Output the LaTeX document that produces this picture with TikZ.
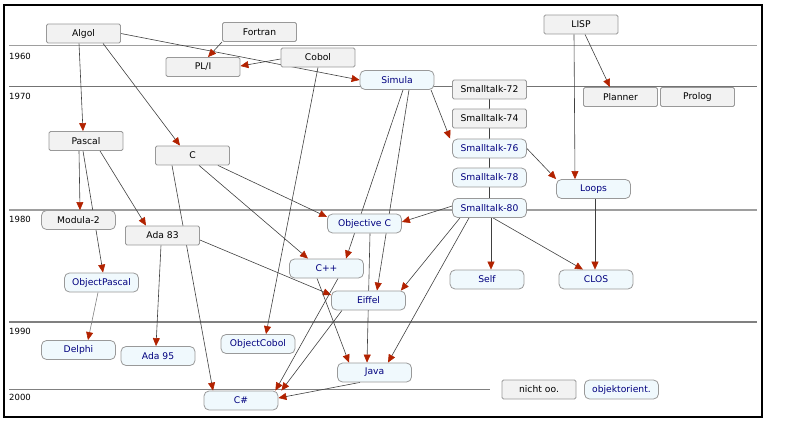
\documentclass[tikz,border=0pt]{standalone}
\usepackage{fontspec}
\setsansfont{DejaVu Sans}
\usetikzlibrary{arrows.meta, backgrounds}
\definecolor{boxgray}{HTML}{F2F2F2}
\definecolor{boxblue}{HTML}{F0F9FD}
\definecolor{edgegray}{HTML}{999999}
\definecolor{textblue}{HTML}{00007F}
\definecolor{tipred}{HTML}{B22200}
\definecolor{linkgray}{HTML}{404040}

\begin{document}
\begin{tikzpicture}[x=1pt, y=-1pt,
    lang/.style={draw=edgegray, line width=0.8pt, minimum width=74pt, minimum height=19pt, inner sep=0pt,
        font=\sffamily\fontsize{9.2}{11}\selectfont},
    oldlang/.style={lang, fill=boxgray, rounded corners=1.5pt},
    oolang/.style={lang, fill=boxblue, text=textblue, rounded corners=5pt},
    link/.style={draw=linkgray, line width=0.6pt},
    arr/.style={link, -{Triangle[length=8pt, width=7pt, color=tipred]}},
    yearline/.style={line width=1.3pt, draw=black!38},
    yearlbl/.style={anchor=west, inner sep=0pt, font=\sffamily\fontsize{8.5}{10}\selectfont},
    ]
    \useasboundingbox (0,0) rectangle (800,422);
    \draw[line width=1.3pt] (4,5) rectangle (762,417);

    % === languages before 1970 ===
    \node[oldlang] (Algol)   at (83.5,33.5) {Algol};
    \node[oldlang] (Fortran) at (259.5,32)  {Fortran};
    \node[oldlang] (PLI)     at (203,67)    {PL/I};
    \node[oldlang] (Cobol)   at (318,57.5)  {Cobol};
    \node[oldlang] (LISP)    at (581,24.5)  {LISP};
    \node[oolang]  (Simula)  at (397,80)    {Simula};

    % === 1970s ===
    \node[oldlang] (ST72)    at (489.5,89.5)  {Smalltalk-72};
    \node[oldlang] (ST74)    at (489.5,118.5) {Smalltalk-74};
    \node[oolang]  (ST76)    at (489.5,148.5) {Smalltalk-76};
    \node[oolang]  (ST78)    at (489.5,177.5) {Smalltalk-78};
    \node[oolang]  (ST80)    at (489.5,208)   {Smalltalk-80};
    \node[oldlang] (Planner) at (620.5,97)    {Planner};
    \node[oldlang] (Prolog)  at (697.5,97)    {Prolog};
    \node[oldlang] (Pascal)  at (86,141)      {Pascal};
    \node[oldlang] (C)       at (192.5,155.5) {C};
    \node[oolang]  (Loops)   at (593.5,189)   {Loops};

    % === 1980s ===
    \node[oldlang, rounded corners=5pt] (Modula) at (78.5,220) {Modula-2};
    \node[oldlang] (Ada83)   at (162.5,235.5) {Ada 83};
    \node[oolang]  (ObjC)    at (364.5,223.5) {Objective C};
    \node[oolang]  (Cpp)     at (326.5,268.5) {C++};
    \node[oolang]  (Self)    at (487,279.5)   {Self};
    \node[oolang]  (CLOS)    at (596,279.5)   {CLOS};
    \node[oolang]  (OPascal) at (101.5,282.5) {ObjectPascal};
    \node[oolang]  (Eiffel)  at (368.5,300.5) {Eiffel};

    % === 1990s and later ===
    \node[oolang]  (Delphi)  at (78.5,350)    {Delphi};
    \node[oolang]  (Ada95)   at (158,356)     {Ada 95};
    \node[oolang]  (OCobol)  at (258,344)     {ObjectCobol};
    \node[oolang]  (Java)    at (374.5,372.5) {Java};
    \node[oolang]  (CSharp)  at (241,400.5)   {C\#};

    % === legend ===
    \node[oldlang] (legendold) at (539,389.5)   {nicht oo.};
    \node[oolang]  (legendoo)  at (621.5,389.5) {objektorient.};

    \begin{scope}[on background layer]
        % === time axis ===
        \foreach \ly/\yr/\ty/\xe/\lw/\lc in {45.5/1960/56/757/1.5/38, 86.7/1970/96/757/1/55, 210/1980/219/757/1.5/38,
                                             322/1990/331.5/757/1.1/50, 389/2000/397.5/490/1/50} {
            \draw[yearline, line width=\lw pt, draw=black!\lc] (9,\ly) -- (\xe,\ly);
            \node[yearlbl] (year\yr) at (9,\ty) {\yr};
        }

        % === Smalltalk chain ===
        \draw[link] (ST72) -- (ST74) -- (ST76) -- (ST78) -- (ST80);

        % === influences ===
        \draw[arr] ([xshift=-4.5]Algol.south) -- ([xshift=-3]Pascal.north);
        \draw[arr] ([xshift=19.5]Algol.south) -- ([xshift=-12.5]C.north);
        \draw[arr] (Algol.east) -- (Simula.west);
        \draw[arr] (Fortran.south west) -- ([xshift=5]PLI.north);
        \draw[arr] ([yshift=-1.5]Cobol.west) -- ([yshift=1]PLI.east);
        \draw[arr] (Cobol.south) -- ([xshift=8]OCobol.north);
        \draw[arr] ([xshift=34]Simula.south) -- ([xshift=-2]ST76.north west);
        \draw[arr] ([xshift=6]Simula.south) -- ([xshift=19.5]Cpp.north);
        \draw[arr] ([xshift=12]Simula.south) -- ([xshift=8.5]Eiffel.north);
        \draw[arr] ([xshift=5.5]ObjC.south) -- ([xshift=-7.5]Java.north);
        \draw[arr] ([yshift=2]ST80.west) -- ([yshift=1.5]ObjC.east);
        \draw[arr] ([xshift=-12]C.south east) -- ([yshift=6.5]ObjC.west);
        \draw[arr] ([xshift=6.5]C.south) -- ([xshift=-18.5]Cpp.north);
        \draw[arr] ([xshift=-20.5]C.south) -- ([xshift=-28]CSharp.north);
        \draw[arr] ([xshift=-7]Pascal.south) -- ([xshift=1.5]Modula.north);
        \draw[arr] ([xshift=-3]Pascal.south) -- ([xshift=1.5]OPascal.north);
        \draw[arr] ([xshift=14]Pascal.south) -- ([xshift=-16.5]Ada83.north);
        \draw[arr] ([xshift=-1.5]Ada83.south) -- ([xshift=-2]Ada95.north);
        \draw[arr] ([yshift=-4.5]Ada83.east) -- ([yshift=5.5]Eiffel.west);
        \draw[arr, draw=black!50] ([xshift=-3.5]OPascal.south) -- ([xshift=9.5]Delphi.north);
        \draw[arr] ([xshift=-9.5]Cpp.south) -- ([xshift=-25.5]Java.north);
        \draw[arr] ([xshift=11.5]Cpp.south) -- ([xshift=-3]CSharp.north east);
        \draw[arr] ([xshift=-26.5]Eiffel.south) -- ([xshift=3]CSharp.north east);
        \draw[arr] ([xshift=-14.5]Java.south) -- ([yshift=2.5]CSharp.east);
        \draw[arr] ([xshift=-29.5]ST80.south) -- ([xshift=-5]Eiffel.north east);
        \draw[arr] ([xshift=-20.5]ST80.south) -- ([xshift=13.5]Java.north);
        \draw[arr] ([xshift=1.5]ST80.south) -- ([xshift=4]Self.north);
        \draw[arr] ([xshift=3.5]ST80.south) -- ([xshift=-13]CLOS.north);
        \draw[arr] ([xshift=1.5]Loops.south) -- ([xshift=-1]CLOS.north);
        \draw[arr] (ST76.east) -- (Loops.north west);
        \draw[arr] ([xshift=-7]LISP.south) -- ([xshift=-18.5]Loops.north);
        \draw[arr] ([xshift=4]LISP.south) -- ([xshift=-10.5]Planner.north);
    \end{scope}
\end{tikzpicture}
\end{document}
